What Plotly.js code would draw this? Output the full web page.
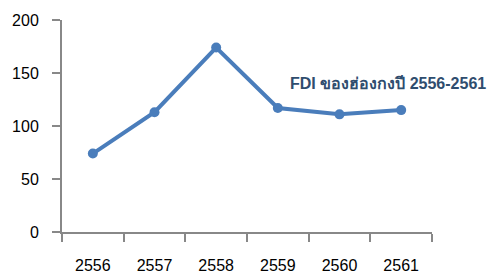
<!DOCTYPE html>
<html><head><meta charset="utf-8">
<script src="https://cdn.plot.ly/plotly-3.0.1.min.js"></script>
<style>html,body{margin:0;padding:0;background:#fff;}#chart{width:496px;height:274px;}</style>
</head><body><div id="chart"></div>
<script>
const years = ['2556','2557','2558','2559','2560','2561'];
const fdi = [74, 113, 174, 117, 111, 115];
const yTicks = [0, 50, 100, 150, 200];
const titleText = 'FDI ของฮ่องกงปี 2556-2561';

const trace = {
  x: years, y: fdi, type: 'scatter', mode: 'lines+markers',
  line: {color: '#4a7dbb', width: 4},
  marker: {color: '#4a7dbb', size: 10},
  cliponaxis: false, hoverinfo: 'none'
};
const layout = {
  width: 496, height: 274,
  margin: {l: 62, r: 64, t: 20, b: 42},
  paper_bgcolor: '#fff', plot_bgcolor: '#fff',
  showlegend: false,
  font: {family: 'Liberation Sans, Arial, sans-serif', color: '#000', size: 16},
  xaxis: {
    type: 'category', tickson: 'boundaries', range: [-0.5, 5.5],
    showline: true, linecolor: '#888', linewidth: 2,
    ticks: 'outside', ticklen: 8, tickwidth: 2, tickcolor: '#888',
    showgrid: false, zeroline: false, ticklabelstandoff: 18,
    tickfont: {size: 16}
  },
  yaxis: {
    range: [0, 200], tickvals: yTicks,
    showline: true, linecolor: '#888', linewidth: 2,
    ticks: 'outside', ticklen: 8, tickwidth: 2, tickcolor: '#888',
    showgrid: false, zeroline: false, ticklabelstandoff: 10,
    tickfont: {size: 16}
  },
  annotations: [{
    text: '<b>' + titleText + '</b>', xref: 'paper', yref: 'paper',
    x: 0.881, y: 0.703, xanchor: 'center', yanchor: 'middle', showarrow: false,
    font: {size: 16, color: '#2f4d6e', family: 'Liberation Sans, Arial, sans-serif'}
  }]
};
Plotly.newPlot('chart', [trace], layout, {displayModeBar: false, staticPlot: true});
</script></body></html>
